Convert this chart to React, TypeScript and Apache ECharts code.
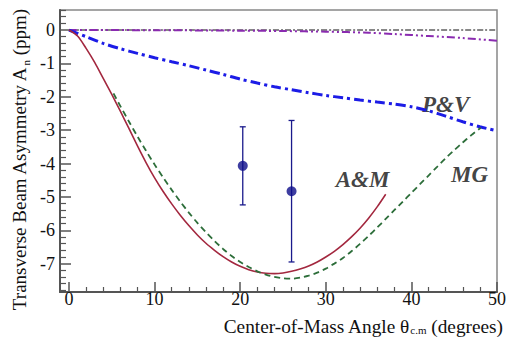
import React, { useEffect, useRef } from "react";
import * as echarts from "echarts";

// Axis ranges (angle in degrees, asymmetry in ppm)
const X_MIN = -1.05;
const X_MAX = 50;
const Y_MIN = -7.85;
const Y_MAX = 0.6;

const xMajorTicks = [0, 10, 20, 30, 40, 50];
const yMajorTicks = [0, -1, -2, -3, -4, -5, -6, -7];

const xMinorTicks: number[] = [];
for (let v = 2; v < 50; v += 2) if (v % 10 !== 0) xMinorTicks.push(v);
const yMinorTicks: number[] = [];
for (let k = 3; k >= -39; k--) if (k % 5 !== 0) yMinorTicks.push(k / 5);

// Theory curves: [angle, A_n]
const zeroLine = [[0, 0], [50, 0]];

const smallCurve = [
  [0, 0], [10, -0.005], [20, -0.02], [25, -0.03], [30, -0.05], [35, -0.08],
  [38, -0.12], [42, -0.18], [46, -0.24], [50, -0.32],
];

const pvCurve = [
  [0, 0], [2, -0.2], [4, -0.4], [6, -0.56], [8, -0.7], [10, -0.83], [12, -0.95],
  [14, -1.07], [16, -1.2], [18, -1.33], [20, -1.47], [22, -1.59], [24, -1.7],
  [26, -1.79], [28, -1.88], [30, -1.96], [32, -2.03], [34, -2.1], [36, -2.16],
  [38, -2.22], [40, -2.3], [42, -2.42], [44, -2.58], [46, -2.75], [48, -2.9],
  [50, -3.02],
];

const amCurve = [
  [0, 0], [1, -0.18], [2, -0.55], [3, -0.97], [4, -1.45], [5, -1.93], [6, -2.43],
  [7, -2.95], [8, -3.47], [9, -3.97], [10, -4.43], [11, -4.84], [12, -5.21],
  [13, -5.55], [14, -5.86], [15, -6.14], [16, -6.39], [17, -6.6], [18, -6.79],
  [19, -6.95], [20, -7.08], [21, -7.18], [22, -7.25], [23, -7.29], [24, -7.3],
  [25, -7.28], [26, -7.23], [27, -7.16], [28, -7.07], [29, -6.95], [30, -6.8],
  [31, -6.63], [32, -6.43], [33, -6.2], [34, -5.94], [35, -5.64], [36, -5.3],
  [37, -4.92],
];

const mgCurve = [
  [5.2, -1.9], [6, -2.28], [7, -2.74], [8, -3.19], [9, -3.62], [10, -4.03],
  [11, -4.42], [12, -4.79], [13, -5.14], [14, -5.47], [15, -5.78], [16, -6.06],
  [17, -6.32], [18, -6.56], [19, -6.77], [20, -6.95], [21, -7.1], [22, -7.23],
  [23, -7.33], [24, -7.4], [25, -7.44], [26, -7.45], [27, -7.42], [28, -7.36],
  [29, -7.27], [30, -7.15], [31, -7.0], [32, -6.83], [33, -6.63], [34, -6.41],
  [35, -6.17], [36, -5.92], [37, -5.66], [38, -5.4], [39, -5.14], [40, -4.88],
  [41, -4.62], [42, -4.36], [43, -4.1], [44, -3.84], [45, -3.6], [46, -3.37],
  [47, -3.15], [48.1, -2.93],
];

// Measurements
const dataAngle = [20.3, 26.0];
const dataAsym = [-4.07, -4.83];
const dataErr = [1.17, 2.12];

// Curve name tags, placed in data coordinates
const tagNames = ["P&V", "A&M", "MG"];
const tagAngle = [44.0, 34.3, 46.8];
const tagAsym = [-2.22, -4.48, -4.33];

const SERIF = "Liberation Serif, Times New Roman, serif";
const AXIS_GRAY = "#555";

export default function App() {
  const ref = useRef<HTMLDivElement>(null);

  useEffect(() => {
    if (!ref.current) return;
    const chart = echarts.init(ref.current, null, { renderer: "svg" });

    const valueAxisBase = {
      type: "value" as const,
      splitLine: { show: false },
    };

    const curve = (data: number[][], lineStyle: any) => ({
      type: "line",
      data,
      symbol: "none",
      smooth: 0.3,
      lineStyle,
    });

    chart.setOption({
      animation: false,
      backgroundColor: "#fff",
      grid: {
        left: 60,
        right: 9,
        top: 10,
        bottom: 45,
        show: true,
        borderColor: "#888",
        borderWidth: 1.5,
      },
      xAxis: [
        {
          ...valueAxisBase,
          min: X_MIN,
          max: X_MAX,
          position: "bottom",
          axisLine: { show: true, onZero: false, lineStyle: { color: AXIS_GRAY, width: 2 } },
          axisTick: {
            show: true,
            inside: true,
            length: 10,
            customValues: xMajorTicks,
            lineStyle: { color: AXIS_GRAY, width: 1.5 },
          },
          axisLabel: {
            customValues: xMajorTicks,
            fontFamily: SERIF,
            fontSize: 18,
            color: "#111",
            margin: -2,
          },
        },
        {
          ...valueAxisBase,
          min: X_MIN,
          max: X_MAX,
          position: "bottom",
          axisLine: { show: false, onZero: false },
          axisTick: {
            show: true,
            inside: true,
            length: 5,
            customValues: xMinorTicks,
            lineStyle: { color: AXIS_GRAY, width: 1.2 },
          },
          axisLabel: { show: false },
        },
      ],
      yAxis: [
        {
          ...valueAxisBase,
          min: Y_MIN,
          max: Y_MAX,
          position: "left",
          axisLine: { show: true, onZero: false, lineStyle: { color: AXIS_GRAY, width: 2 } },
          axisTick: {
            show: true,
            inside: true,
            length: 11,
            customValues: yMajorTicks,
            lineStyle: { color: AXIS_GRAY, width: 1.5 },
          },
          axisLabel: {
            customValues: yMajorTicks,
            fontFamily: SERIF,
            fontSize: 18,
            color: "#111",
            margin: 5,
            formatter: (v: number) => String(v),
          },
        },
        {
          ...valueAxisBase,
          min: Y_MIN,
          max: Y_MAX,
          position: "left",
          axisLine: { show: false, onZero: false },
          axisTick: {
            show: true,
            inside: true,
            length: 6,
            customValues: yMinorTicks,
            lineStyle: { color: AXIS_GRAY, width: 1.2 },
          },
          axisLabel: { show: false },
        },
      ],
      series: [
        curve(zeroLine, { color: "#111", width: 1.2, type: [6, 2, 2, 2] }),
        curve(smallCurve, { color: "#8a2bb0", width: 2, type: [8, 3, 2, 3, 2, 3] }),
        curve(pvCurve, { color: "#1c1ce6", width: 3, type: [10, 4, 3, 4] }),
        curve(amCurve, { color: "#a3283f", width: 1.6 }),
        curve(mgCurve, { color: "#2d6e3a", width: 1.8, type: [6, 4] }),
        {
          type: "custom",
          data: dataAngle.map((a, i) => [a, dataAsym[i], dataErr[i]]),
          encode: { x: 0, y: 1 },
          renderItem: (_params: any, api: any) => {
            const x = api.value(0);
            const y = api.value(1);
            const e = api.value(2);
            const top = api.coord([x, y + e]);
            const bot = api.coord([x, y - e]);
            const cap = 3;
            const style = { stroke: "#1a1a8c", lineWidth: 1.3 };
            return {
              type: "group",
              children: [
                { type: "line", shape: { x1: top[0], y1: top[1], x2: bot[0], y2: bot[1] }, style },
                { type: "line", shape: { x1: top[0] - cap, y1: top[1], x2: top[0] + cap, y2: top[1] }, style },
                { type: "line", shape: { x1: bot[0] - cap, y1: bot[1], x2: bot[0] + cap, y2: bot[1] }, style },
              ],
            };
          },
        },
        {
          type: "scatter",
          data: dataAngle.map((a, i) => [a, dataAsym[i]]),
          symbol: "circle",
          symbolSize: 10,
          itemStyle: { color: "#0d0d8a" },
        },
        {
          type: "scatter",
          data: tagNames.map((n, i) => ({ name: n, value: [tagAngle[i], tagAsym[i]] })),
          symbolSize: 0,
          label: {
            show: true,
            position: "inside",
            formatter: "{b}",
            fontFamily: SERIF,
            fontSize: 23,
            fontWeight: "bold",
            fontStyle: "italic",
            color: "#111",
          },
        },
      ],
      graphic: [
        {
          type: "text",
          x: 19.5,
          y: 160,
          rotation: Math.PI / 2,
          style: {
            text: "Transverse Beam Asymmetry A{sub|n} (ppm)",
            fontFamily: SERIF,
            fontSize: 19,
            fill: "#111",
            textAlign: "center",
            textVerticalAlign: "middle",
            rich: {
              sub: { fontFamily: SERIF, fontSize: 11, lineHeight: 11, padding: [12, 0, 0, 1] },
            },
            lineHeight: 23,
          },
        },
        {
          type: "text",
          x: 503,
          y: 326,
          style: {
            text: "Center-of-Mass Angle \u03b8{sub|c.m} (degrees)",
            fontFamily: SERIF,
            fontSize: 19.3,
            fill: "#111",
            textAlign: "right",
            textVerticalAlign: "middle",
            rich: {
              sub: { fontFamily: SERIF, fontSize: 11, lineHeight: 11, padding: [8, 0, 0, 1] },
            },
            lineHeight: 21,
          },
        },
      ],
    });

    return () => chart.dispose();
  }, []);

  return (
    <div
      ref={ref}
      style={{ position: "fixed", left: 0, top: 0, width: 509, height: 337, background: "#fff" }}
    />
  );
}
